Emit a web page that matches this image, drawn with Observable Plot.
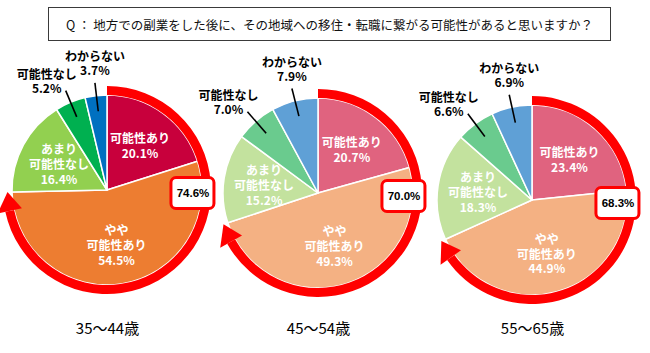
<!DOCTYPE html>
<html><head><meta charset="utf-8">
<script src="https://cdn.jsdelivr.net/npm/d3@7"></script>
<script src="https://cdn.jsdelivr.net/npm/@observablehq/plot@0.6"></script>
<style>
html,body{margin:0;padding:0;background:#fff;}
body{width:650px;height:353px;position:relative;overflow:hidden;font-family:"Noto Sans CJK JP","Noto Sans",sans-serif;}
#title{position:absolute;left:48px;top:7px;width:563px;height:34px;border:1px solid #3a3a3a;box-sizing:border-box;display:flex;align-items:center;justify-content:center;font-size:12.5px;color:#111;}
.pie{position:absolute;top:40px;}
</style></head><body>
<div id="title">Q ： 地方での副業をした後に、その地域への移住・転職に繋がる可能性があると思いますか？</div>
<div id="p0" class="pie"></div>
<div id="p1" class="pie"></div>
<div id="p2" class="pie"></div>
<script>
// ---- data ----
const ages = ["35～44歳", "45～54歳", "55～65歳"];
const categories = ["可能性あり", "やや\n可能性あり", "あまり\n可能性なし", "可能性なし", "わからない"];
const values35 = [20.1, 54.5, 16.4, 5.2, 3.7];
const values45 = [20.7, 49.3, 15.2, 7.0, 7.9];
const values55 = [23.4, 44.9, 18.3, 6.6, 6.9];
const totalLabels = ["74.6%", "70.0%", "68.3%"];
const series = [values35, values45, values55];

// ---- styles / layout ----
const paletteDark = ["#C8003C", "#ED7D31", "#92D050", "#00B050", "#0070C0"];
const paletteLight = ["#E0637F", "#F4B183", "#C3E29E", "#6ACB8E", "#5FA0D6"];
const palettes = [paletteDark, paletteLight, paletteLight];
const lefts = [0, 211, 425];
const centerY = [150, 153, 160];
const W = 214, H = 305, R = 95;
const RED = "#FF0000";
const font = "'Noto Sans CJK JP', sans-serif";
// pixel nudges of the outside labels relative to the top of their leader line
const outsideNudge = {3: [-19, -9], 4: [0, -19]};

const pol = (a, k) => [k * Math.sin(a), k * Math.cos(a)];

series.forEach((vals, g) => {
  const pal = palettes[g];
  const arcs = d3.pie().sort(null).value(d => d)(vals);
  const total = d3.sum(vals);
  const endA = (vals[0] + vals[1]) / total * 2 * Math.PI;

  const labels = arcs.map((a, i) => {
    const m = (a.startAngle + a.endAngle) / 2;
    const inside = i < 3;
    let [x, y] = pol(m, inside ? 0.58 : 1.14);
    if (!inside) { x += outsideNudge[i][0] / R; y -= outsideNudge[i][1] / R; }
    return {x, y, inside, text: categories[i] + "\n" + vals[i].toFixed(1) + "%"};
  });
  const leaders = arcs.slice(3).map(a => {
    const m = (a.startAngle + a.endAngle) / 2;
    const [x1, y1] = pol(m, 1.14);
    const [x2, y2] = pol(m, 0.84);
    return {x1, y1, x2, y2};
  });

  const pieMark = (index, {x, y}) => {
    const cx = x(0), cy = y(0), r = x(1) - x(0);
    const grp = d3.create("svg:g").attr("transform", `translate(${cx},${cy})`);
    const arc = d3.arc().innerRadius(0).outerRadius(r);
    grp.selectAll("path").data(arcs).join("path")
      .attr("d", arc).attr("fill", (d, i) => pal[i])
      .attr("stroke", "#fff").attr("stroke-width", 1.5).attr("stroke-linejoin", "round");
    return grp.node();
  };

  const arrowMark = (index, {x, y}) => {
    const cx = x(0), cy = y(0), r = x(1) - x(0);
    const band = 9, rb = r + band / 2, head = 19, hw = 12.5;
    const b = endA - head / rb;
    const grp = d3.create("svg:g").attr("transform", `translate(${cx},${cy})`);
    grp.append("path")
      .attr("d", d3.arc()({innerRadius: r, outerRadius: r + band, startAngle: 0, endAngle: b}))
      .attr("fill", RED);
    const pt = (a, rr) => [rr * Math.sin(a), -rr * Math.cos(a)];
    grp.append("path")
      .attr("d", "M" + [pt(b, rb - hw), pt(b, rb + hw), pt(endA, rb)].map(p => p.join(",")).join("L") + "Z")
      .attr("fill", RED);
    return grp.node();
  };

  const [bx, by] = pol(92 * Math.PI / 180, 0.9);
  const bw = 21.5 / R, bh = 15.5 / R;

  const chart = Plot.plot({
    width: W, height: H,
    margin: 0,
    x: {domain: [-(W / 2) / R, (W / 2) / R], axis: null},
    y: {domain: [-(H - centerY[g]) / R, centerY[g] / R], axis: null},
    style: {background: "transparent", overflow: "visible", fontFamily: font},
    marks: [
      pieMark,
      arrowMark,
      Plot.link(leaders, {x1: "x1", y1: "y1", x2: "x2", y2: "y2", stroke: "#000", strokeWidth: 1.6}),
      Plot.text(labels.filter(d => d.inside), {x: "x", y: "y", text: "text", fill: "#fff",
        fontSize: 12, fontWeight: "bold", lineHeight: 1.25, fontFamily: font}),
      Plot.text(labels.filter(d => !d.inside), {x: "x", y: "y", text: "text", fill: "#000",
        fontSize: 12, fontWeight: "bold", lineHeight: 1.15, fontFamily: font}),
      Plot.rect([totalLabels[g]], {x1: () => bx - bw, x2: () => bx + bw, y1: () => by - bh, y2: () => by + bh,
        fill: "#fff", stroke: RED, strokeWidth: 3, rx: 5}),
      Plot.text([totalLabels[g]], {x: () => bx, y: () => by, text: d => d, fill: "#000",
        fontSize: 11.5, fontWeight: "bold", fontFamily: "'Liberation Sans', Arial, sans-serif"}),
      Plot.text([ages[g]], {frameAnchor: "bottom", dy: -12, text: d => d, fill: "#000",
        fontSize: 15, fontFamily: font})
    ]
  });
  const host = document.getElementById("p" + g);
  host.style.left = lefts[g] + "px";
  host.appendChild(chart);
});
</script>
</body></html>
